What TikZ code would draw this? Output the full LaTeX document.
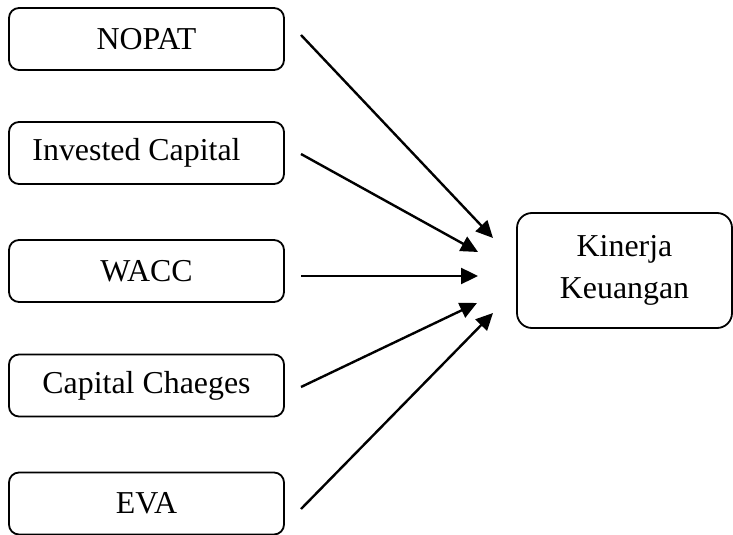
\documentclass[tikz,border=0pt]{standalone}
\usepackage{fontspec}
\setmainfont{Liberation Serif}
\usetikzlibrary{arrows.meta}
\tikzset{
  srcbox/.style={draw, line width=0.9bp, rounded corners=5bp, minimum width=137.5bp, minimum height=31bp, inner sep=0pt, font=\fontsize{16}{21}\selectfont},
  tgtbox/.style={draw, line width=0.9bp, rounded corners=7.5bp, minimum width=107.5bp, minimum height=57.5bp, inner sep=0pt, align=center, font=\fontsize{16}{21}\selectfont},
  conn/.style={line width=1.2bp, -{Triangle[length=8.5bp,width=8bp]}}
}
\begin{document}
\begin{tikzpicture}[x=0.5bp,y=-0.5bp]
\useasboundingbox (0,0) rectangle (733,535);
\node[srcbox] (nopat) at (146.5,39) {NOPAT};
\node[srcbox] (ic) at (146.5,153) {\hspace*{-10bp}Invested Capital};
\node[srcbox] (wacc) at (146.5,271) {WACC};
\node[srcbox] (cc) at (146.5,385.5) {Capital Chaeges};
\node[srcbox] (eva) at (146.5,503.5) {EVA};
\node[tgtbox] (kk) at (624.5,270.5) {Kinerja\\Keuangan};
\coordinate (s1) at (301,35);
\coordinate (s2) at (301,154);
\coordinate (s3) at (301,276);
\coordinate (s4) at (301,387);
\coordinate (s5) at (301,509);
\coordinate (t1) at (493,238);
\coordinate (t2) at (478,252);
\coordinate (t3) at (478,276);
\coordinate (t4) at (477,303);
\coordinate (t5) at (493,313);
\draw[conn] (s1) -- (t1);
\draw[conn] (s2) -- (t2);
\draw[conn] (s3) -- (t3);
\draw[conn] (s4) -- (t4);
\draw[conn] (s5) -- (t5);
\end{tikzpicture}
\end{document}
